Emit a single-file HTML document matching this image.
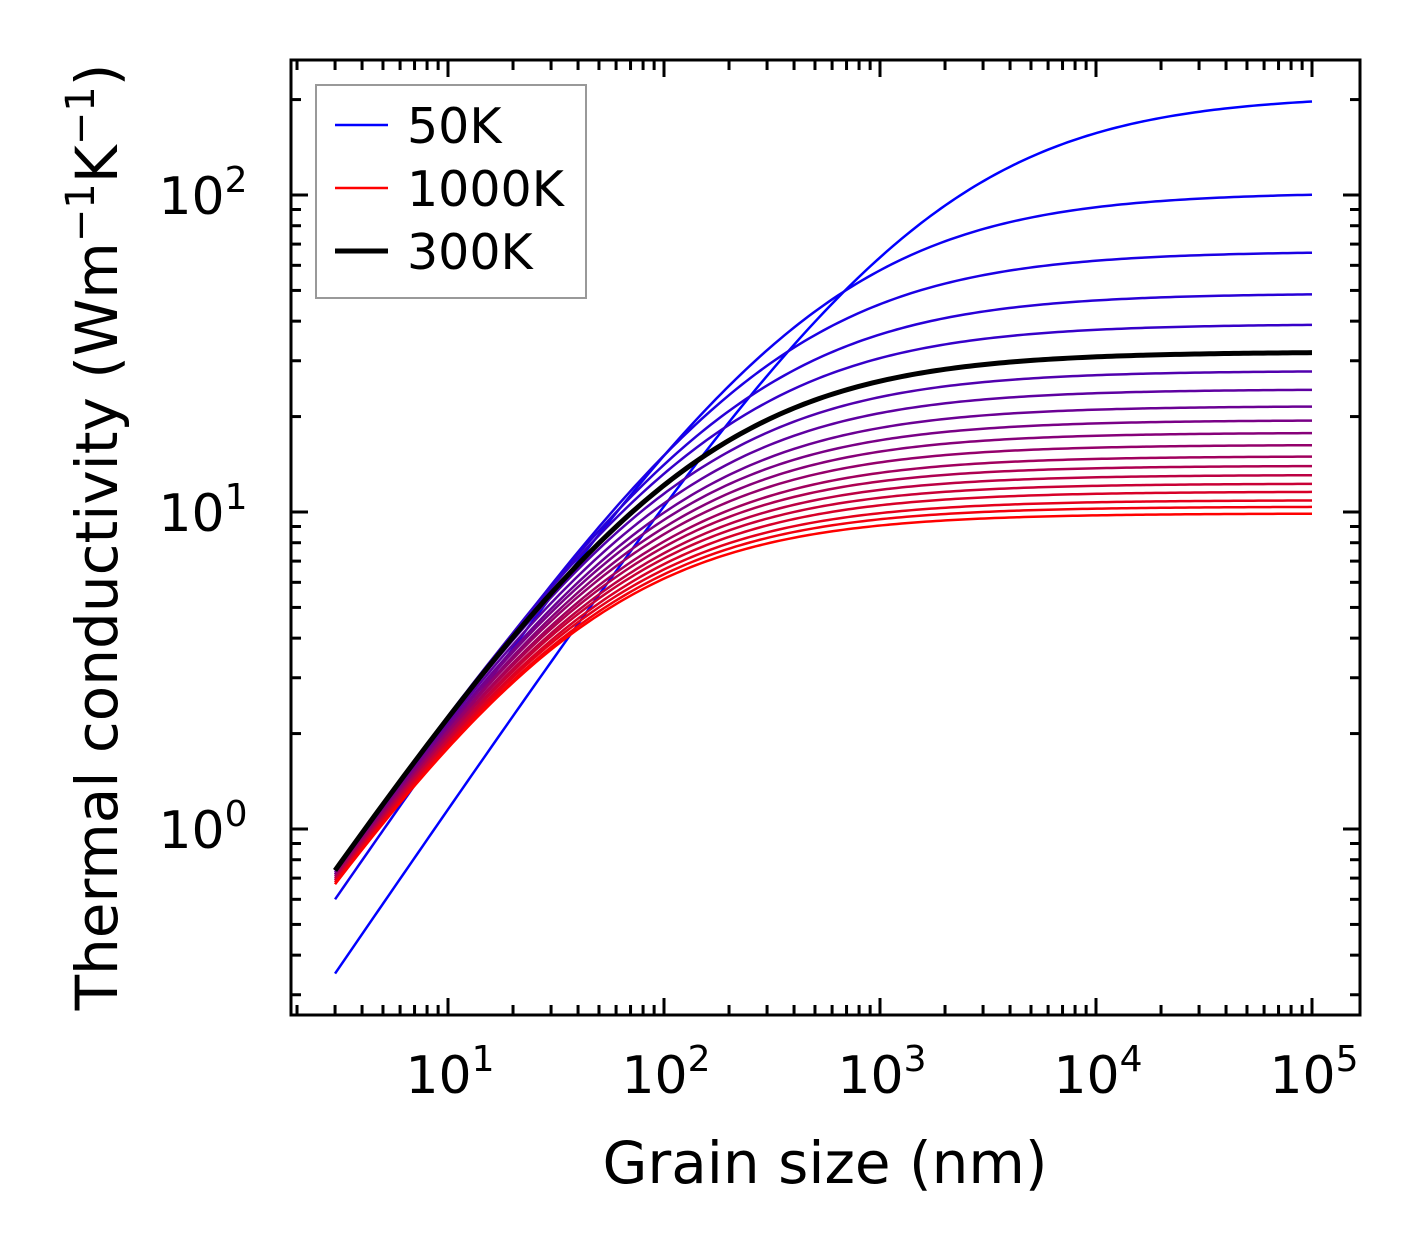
<!DOCTYPE html>
<html><head><meta charset="utf-8"><style>
body{margin:0;background:#fff}
svg{display:block;font-family:"DejaVu Sans","Liberation Sans",sans-serif}
</style></head><body>
<svg id="chart" width="1421" height="1254" viewBox="0 0 1421 1254" xmlns="http://www.w3.org/2000/svg">
<g id="curves"></g>
<g id="axes"></g>
<rect x="291" y="60" width="1069" height="955" fill="none" stroke="#000" stroke-width="3"/>
<text x="825" y="1183" font-size="58" text-anchor="middle">Grain size (nm)</text>
<text transform="translate(117,537) rotate(-90)" font-size="58" text-anchor="middle">Thermal conductivity (Wm<tspan dy="-23" font-size="40">−1</tspan><tspan dy="23">K</tspan><tspan dy="-23" font-size="40">−1</tspan><tspan dy="23">)</tspan></text>
<g>
<rect x="316" y="85" width="270" height="213" fill="#fff" stroke="#999" stroke-width="2"/>
<line x1="335" y1="125" x2="388" y2="125" stroke="#0000ff" stroke-width="2.5"/>
<text x="407" y="143" font-size="49">50K</text>
<line x1="335" y1="188" x2="388" y2="188" stroke="#ff0000" stroke-width="2.5"/>
<text x="407" y="206" font-size="49">1000K</text>
<line x1="335" y1="251" x2="388" y2="251" stroke="#000" stroke-width="5"/>
<text x="407" y="269" font-size="49">300K</text>
</g>
</svg>
<script>
// Data
const temperatures = [50,100,150,200,250,300,350,400,450,500,550,600,650,700,750,800,850,900,950,1000];
const bulkConductivity = [207,102,66.5,49,39.2,32,27.9,24.4,21.6,19.5,17.8,16.3,15.0,14.0,13.1,12.3,11.6,10.9,10.4,9.9];
const conductivityAt3nm = [0.35,0.60,0.69,0.72,0.74,0.74,0.74,0.73,0.72,0.72,0.71,0.71,0.70,0.70,0.69,0.69,0.68,0.68,0.67,0.67];
const xTickLabels = ["1","2","3","4","5"];
const yTickLabels = ["0","1","2"];

const NS="http://www.w3.org/2000/svg";
const xScale = v => 448 + (Math.log10(v)-1)*216;
const yScale = v => 512 - (Math.log10(v)-1)*317;
const P = 0.8;
function shape(L, kb, lam){ return kb/Math.pow(1+Math.pow(lam/L,P),1/P); }
function solveLam(kb,k3){ let lo=0.1,hi=1e6; for(let i=0;i<80;i++){const m=Math.sqrt(lo*hi); if(shape(3,kb,m)>k3) lo=m; else hi=m;} return Math.sqrt(lo*hi); }

const cg=document.getElementById('curves');
const order=[...temperatures.keys()].filter(i=>temperatures[i]!==300).concat(temperatures.indexOf(300));
order.forEach(i=>{
  const T=temperatures[i], kb=bulkConductivity[i], lam=solveLam(kb,conductivityAt3nm[i]);
  let d="";
  for(let s=0;s<=200;s++){const L=3*Math.pow(1e5/3,s/200); const k=shape(L,kb,lam); d+=(s?"L":"M")+xScale(L).toFixed(2)+","+yScale(k).toFixed(2);}
  const p=document.createElementNS(NS,'path');
  p.setAttribute('d',d);
  const t=(T-50)/950;
  const col= T===300?'#000':`rgb(${Math.round(255*t)},0,${Math.round(255*(1-t))})`;
  p.setAttribute('stroke',col);p.setAttribute('fill','none');
  p.setAttribute('stroke-width',T===300?5:2.5);
  
  
  cg.appendChild(p);
});

const ax=document.getElementById('axes');
function ln(x1,y1,x2,y2,name){const l=document.createElementNS(NS,'line');l.setAttribute('x1',x1);l.setAttribute('y1',y1);l.setAttribute('x2',x2);l.setAttribute('y2',y2);l.setAttribute('stroke','#000');l.setAttribute('stroke-width',3);


ax.appendChild(l);}
function label(x,y,base,exp,name){const t=document.createElementNS(NS,'text');t.setAttribute('x',x);t.setAttribute('y',y);t.setAttribute('font-size','52');t.setAttribute('text-anchor','middle');
t.innerHTML=base+'<tspan dy="-22" font-size="36">'+exp+'</tspan>';


ax.appendChild(t);}
// x ticks
for(let e=0;e<=5;e++){for(let m=1;m<10;m++){const v=m*Math.pow(10,e);const x=xScale(v);if(x<292||x>1359)continue;const len=m===1?17:10;
ln(x,1015,x,1015-len,'x-tick');ln(x,60,x,60+len,'x-tick-top');}}
xTickLabels.forEach(e=>label(xScale(Math.pow(10,+e))+2,1093,'10',e,'x'));
// y ticks
for(let e=-1;e<=2;e++){for(let m=1;m<10;m++){const v=m*Math.pow(10,e);const y=yScale(v);if(y<61||y>1014)continue;const len=m===1?17:10;
ln(291,y,291+len,y,'y-tick');ln(1360,y,1360-len,y,'y-tick-right');}}
yTickLabels.forEach(e=>label(203,yScale(Math.pow(10,+e))+19,'10',e,'y'));
</script>
</body></html>
